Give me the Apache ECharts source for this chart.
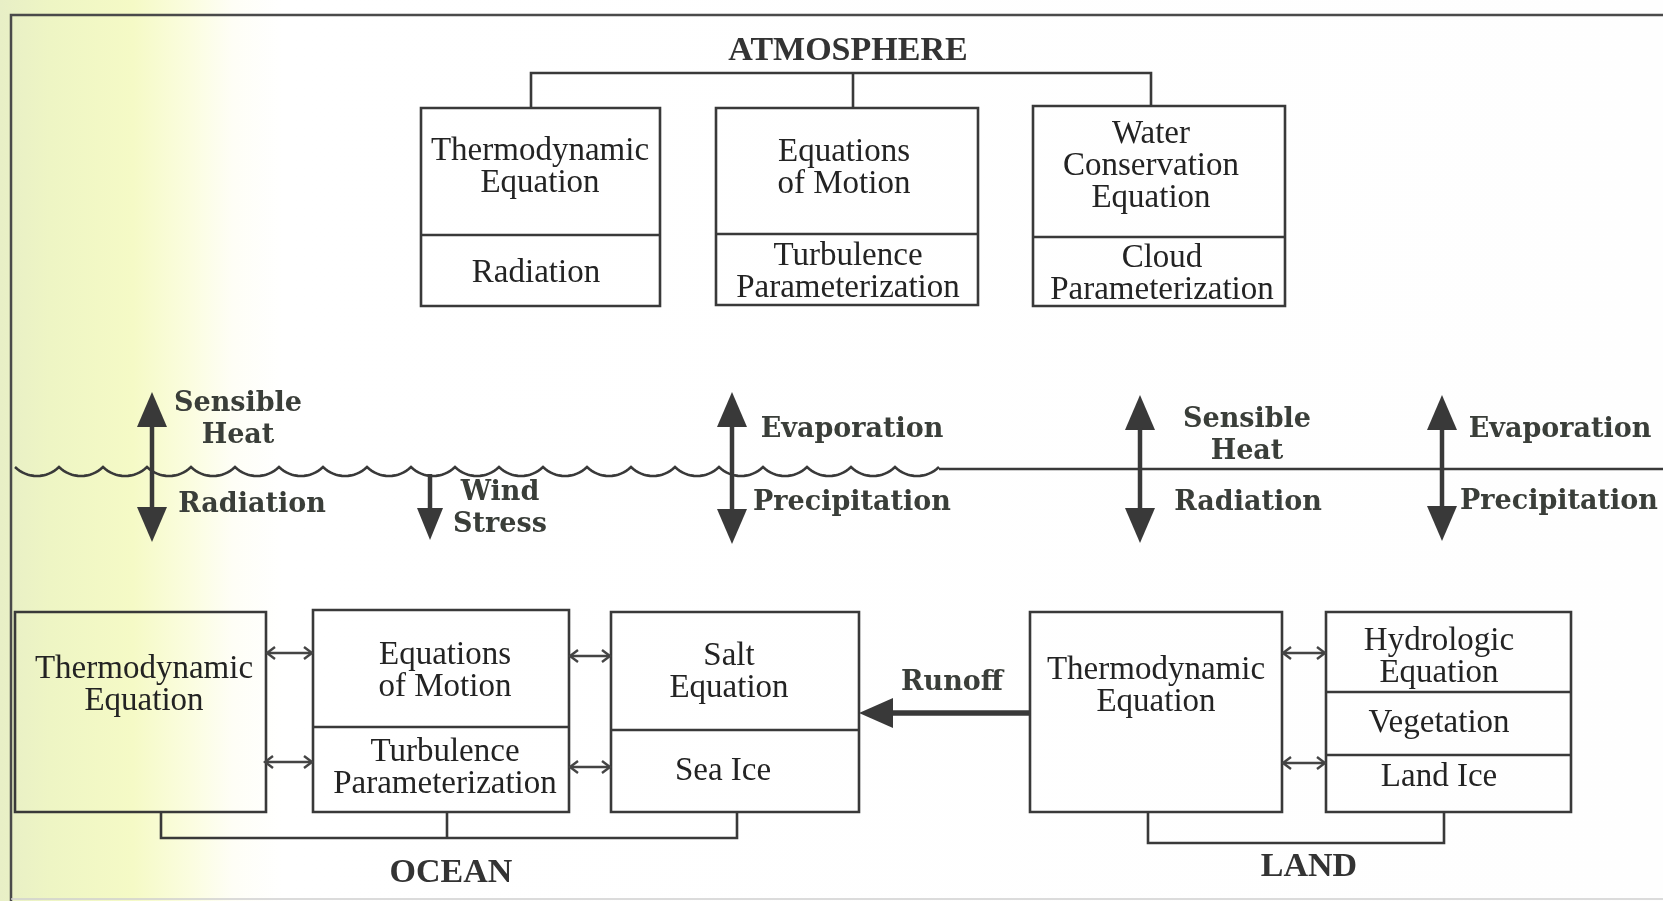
<!DOCTYPE html>
<html>
<head>
<meta charset="utf-8">
<title>Climate model components</title>
<script src="https://cdn.jsdelivr.net/npm/echarts@6/dist/echarts.min.js"></script>
<style>
  html, body { margin: 0; padding: 0; background: #fff; }
  #chart { width: 1663px; height: 901px; }
</style>
</head>
<body>
<div id="chart"></div>
<script>
// diagram space: x 0..1663, y 0..901 (y grows downward)
var W = 1663, H = 901;

// boxes [x0, x1, y0, y1] and the horizontal dividers inside them
var boxRects = [
    [421, 660, 108, 306],   // atmosphere thermodynamic
    [716, 978, 108, 305],   // atmosphere motion
    [1033, 1285, 106, 306], // atmosphere water
    [15, 266, 612, 812],    // ocean thermodynamic
    [313, 569, 610, 812],   // ocean motion
    [611, 859, 612, 812],   // ocean salt
    [1030, 1282, 612, 812], // land thermodynamic
    [1326, 1571, 612, 812]  // land hydrology stack
];
var boxDividers = [[235], [234], [237], [], [727], [730], [], [692, 755]];

var boxLabels = [
    [540, 167, 'Thermodynamic\nEquation'],
    [536, 273, 'Radiation'],
    [844, 168, 'Equations\nof Motion'],
    [848, 272, 'Turbulence\nParameterization'],
    [1151, 166, 'Water\nConservation\nEquation'],
    [1162, 274, 'Cloud\nParameterization'],
    [144, 685, 'Thermodynamic\nEquation'],
    [445, 671, 'Equations\nof Motion'],
    [445, 768, 'Turbulence\nParameterization'],
    [729, 672, 'Salt\nEquation'],
    [723, 771, 'Sea Ice'],
    [1156, 686, 'Thermodynamic\nEquation'],
    [1439, 657, 'Hydrologic\nEquation'],
    [1439, 723, 'Vegetation'],
    [1439, 777, 'Land Ice']
];

var fluxLabels = [
    [238, 420, 'Sensible\nHeat'],
    [252, 505, 'Radiation'],
    [500, 509, 'Wind\nStress'],
    [852, 430, 'Evaporation'],
    [852, 503, 'Precipitation'],
    [1247, 436, 'Sensible\nHeat'],
    [1248, 503, 'Radiation'],
    [1560, 430, 'Evaporation'],
    [1559, 502, 'Precipitation'],
    [952, 683, 'Runoff']
];

var regionLabels = [
    [848, 51, 'ATMOSPHERE'],
    [451, 873, 'OCEAN'],
    [1309, 867, 'LAND']
];

// connector brackets
var bracketPaths = [
    [[531, 108], [531, 73], [1151, 73], [1151, 106]],
    [[853, 73], [853, 108]],
    [[161, 812], [161, 838], [737, 838], [737, 812]],
    [[447, 812], [447, 838]],
    [[1148, 812], [1148, 843], [1444, 843], [1444, 812]]
];
var framePaths = [
    [[11, 901], [11, 15], [1663, 15]]
];
var frameBottom = [[[11, 899], [1663, 899]]];

// flux arrows [x, yTop, yBottom, heads]
var fluxArrows = [
    [152, 392, 542, 'both'],
    [430, 474, 540, 'down'],
    [732, 392, 544, 'both'],
    [1140, 395, 543, 'both'],
    [1442, 395, 541, 'both']
];
// runoff [xStart, xTip, y]
var runoffArrow = [[1030, 859, 713]];
// two-way couplings [x0, x1, y]
var couplings = [
    [266, 313, 653], [264, 313, 762],
    [569, 611, 656], [569, 611, 767],
    [1282, 1326, 653], [1282, 1326, 763]
];
// surface [x0, x1, y]
var oceanSurface = [[15, 939, 467]];
var landSurface = [[[939, 469], [1663, 469]]];

var ink = '#393939';

function renderBox(params, api) {
    var r = boxRects[params.dataIndex];
    var p0 = api.coord([r[0], r[2]]);
    var p1 = api.coord([r[1], r[3]]);
    var children = [{
        type: 'rect',
        shape: { x: p0[0], y: p0[1], width: p1[0] - p0[0], height: p1[1] - p0[1] },
        style: { fill: 'none', stroke: ink, lineWidth: 2.6 }
    }];
    boxDividers[params.dataIndex].forEach(function (d) {
        var y = api.coord([r[0], d])[1];
        children.push({
            type: 'line',
            shape: { x1: p0[0], y1: y, x2: p1[0], y2: y },
            style: { stroke: ink, lineWidth: 2.6 }
        });
    });
    return { type: 'group', children: children };
}

function textSeries(items, size, weight, family, color, lh) {
    return {
        type: 'custom',
        silent: true,
        z: 5,
        data: items.map(function (it) { return [it[0], it[1]]; }),
        renderItem: function (params, api) {
            var it = items[params.dataIndex];
            var p = api.coord([it[0], it[1]]);
            return {
                type: 'text',
                x: p[0],
                y: p[1],
                style: {
                    text: it[2],
                    fontSize: size,
                    fontWeight: weight,
                    fontFamily: family,
                    fill: color,
                    align: 'center',
                    verticalAlign: 'middle',
                    lineHeight: lh
                }
            };
        }
    };
}

function renderFlux(params, api) {
    var a = fluxArrows[params.dataIndex];
    var top = api.coord([a[0], a[1]]);
    var bot = api.coord([a[0], a[2]]);
    var x = top[0], hl = 35, hw = 15, sw = 4.5;
    var children = [];
    var y0 = top[1], y1 = bot[1];
    if (a[3] === 'both') {
        children.push({ type: 'polygon', shape: { points: [[x, y0], [x - hw, y0 + hl], [x + hw, y0 + hl]] }, style: { fill: ink } });
        y0 += hl - 2;
    } else {
        hl = 32; hw = 13;
    }
    children.push({ type: 'polygon', shape: { points: [[x, y1], [x - hw, y1 - hl], [x + hw, y1 - hl]] }, style: { fill: ink } });
    children.push({ type: 'rect', shape: { x: x - sw / 2, y: y0, width: sw, height: (y1 - hl + 2) - y0 }, style: { fill: ink } });
    return { type: 'group', children: children };
}

function renderRunoff(params, api) {
    var a = runoffArrow[params.dataIndex];
    var s = api.coord([a[0], a[2]]);
    var t = api.coord([a[1], a[2]]);
    var hl = 34, hw = 15, sw = 5.5;
    return {
        type: 'group',
        children: [
            { type: 'polygon', shape: { points: [[t[0], t[1]], [t[0] + hl, t[1] - hw], [t[0] + hl, t[1] + hw]] }, style: { fill: ink } },
            { type: 'rect', shape: { x: t[0] + hl - 2, y: t[1] - sw / 2, width: s[0] - t[0] - hl + 2, height: sw }, style: { fill: ink } }
        ]
    };
}

function renderCoupling(params, api) {
    var c = couplings[params.dataIndex];
    var p0 = api.coord([c[0], c[2]]);
    var p1 = api.coord([c[1], c[2]]);
    var y = p0[1], d = 9, h = 6;
    var st = { stroke: '#444', lineWidth: 2.4, fill: 'none' };
    return {
        type: 'group',
        children: [
            { type: 'line', shape: { x1: p0[0] + 1, y1: y, x2: p1[0] - 1, y2: y }, style: st },
            { type: 'polyline', shape: { points: [[p0[0] + d, y - h], [p0[0] + 1, y], [p0[0] + d, y + h]] }, style: st },
            { type: 'polyline', shape: { points: [[p1[0] - d, y - h], [p1[0] - 1, y], [p1[0] - d, y + h]] }, style: st }
        ]
    };
}

function renderWaves(params, api) {
    var s = oceanSurface[params.dataIndex];
    var a = api.coord([s[0], s[2]]);
    var b = api.coord([s[1], s[2]]);
    var n = Math.round((b[0] - a[0]) / 44);
    var c = (b[0] - a[0]) / n, sag = 9;
    var R = (c * c / 4 + sag * sag) / (2 * sag);
    var th = Math.asin((c / 2) / R);
    var pts = [];
    for (var k = 0; k < n; k++) {
        var xm = a[0] + c * (k + 0.5);
        var cy = a[1] + sag - R;
        for (var j = 0; j <= 16; j++) {
            var t = -th + (2 * th) * j / 16;
            pts.push([xm + R * Math.sin(t), cy + R * Math.cos(t)]);
        }
    }
    return { type: 'polyline', shape: { points: pts }, style: { stroke: ink, lineWidth: 2.6, fill: 'none' } };
}

var chart = echarts.init(document.getElementById('chart'), null, { renderer: 'canvas' });

var option = {
    animation: false,
    backgroundColor: new echarts.graphic.LinearGradient(0, 0, 1, 0, [
        { offset: 0, color: '#e8efc6' },
        { offset: 0.03, color: '#eef5c4' },
        { offset: 0.08, color: '#f5fac6' },
        { offset: 0.115, color: '#fbfde0' },
        { offset: 0.14, color: '#fefef6' },
        { offset: 0.17, color: '#ffffff' },
        { offset: 1, color: '#fefefe' }
    ]),
    grid: { left: 0, right: 0, top: 0, bottom: 0 },
    xAxis: { type: 'value', min: 0, max: W, show: false },
    yAxis: { type: 'value', min: 0, max: H, inverse: true, show: false },
    series: [
        {
            type: 'lines', coordinateSystem: 'cartesian2d', polyline: true, silent: true,
            data: framePaths.map(function (p) { return { coords: p }; }),
            lineStyle: { color: '#4a4a4a', width: 2.5, opacity: 1 }
        },
        {
            type: 'lines', coordinateSystem: 'cartesian2d', polyline: true, silent: true,
            data: frameBottom.map(function (p) { return { coords: p }; }),
            lineStyle: { color: '#cfcfcf', width: 1.5, opacity: 1 }
        },
        {
            type: 'lines', coordinateSystem: 'cartesian2d', polyline: true, silent: true,
            data: bracketPaths.map(function (p) { return { coords: p }; }),
            lineStyle: { color: ink, width: 2.6, opacity: 1 }
        },
        {
            type: 'lines', coordinateSystem: 'cartesian2d', polyline: true, silent: true,
            data: landSurface.map(function (p) { return { coords: p }; }),
            lineStyle: { color: ink, width: 2.6, opacity: 1 }
        },
        { type: 'custom', silent: true, data: oceanSurface, renderItem: renderWaves },
        { type: 'custom', silent: true, data: boxRects, renderItem: renderBox },
        { type: 'custom', silent: true, z: 3, data: fluxArrows.map(function (a) { return [a[0], a[1]]; }), renderItem: renderFlux },
        { type: 'custom', silent: true, z: 3, data: runoffArrow.map(function (a) { return [a[0], a[2]]; }), renderItem: renderRunoff },
        { type: 'custom', silent: true, z: 3, data: couplings.map(function (c) { return [c[0], c[2]]; }), renderItem: renderCoupling },
        textSeries(boxLabels, 33, 'normal', '"Liberation Serif", "Times New Roman", serif', '#232323', 32),
        textSeries(fluxLabels, 27, 'bold', '"DejaVu Serif", serif', '#3a3e39', 32),
        textSeries(regionLabels, 34, 'bold', '"Liberation Serif", "Times New Roman", serif', '#333333', 34)
    ]
};

chart.setOption(option);
</script>
</body>
</html>
